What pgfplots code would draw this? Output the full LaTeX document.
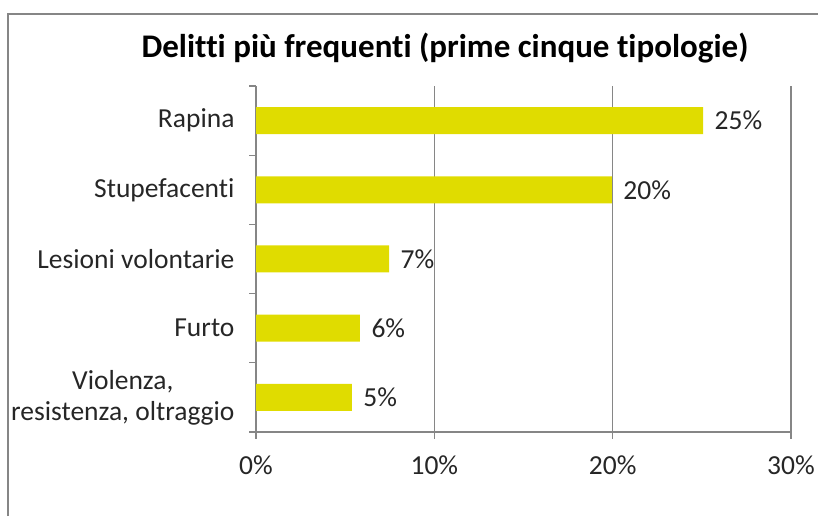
\documentclass[border=0pt]{standalone}
\usepackage{pgfplots}
\pgfplotsset{compat=1.18}
\usepackage{fontspec}
\setmainfont{Carlito}[Ligatures=NoCommon]
\definecolor{barcol}{RGB}{224,220,0}
\definecolor{axcol}{RGB}{134,134,134}
\begin{document}
\begin{tikzpicture}[x=1pt,y=1pt]
  \path[use as bounding box] (0,0) rectangle (818,516);
  \draw[axcol, line width=2pt] (8,0) -- (8,502) -- (818,502);
  \node[font=\fontsize{33}{37}\selectfont\bfseries] at (445,468) {Delitti più frequenti (prime cinque tipologie)};
  \begin{axis}[
      at={(256pt,84pt)}, anchor=south west,
      scale only axis, width=535pt, height=346pt,
      xbar, bar width=27pt,
      xmin=0, xmax=30, ymin=-0.5, ymax=4.5,
      enlargelimits=false,
      axis lines*=left,
      axis line style={axcol, line width=1.3pt, -},
      xmajorgrids, grid style={axcol, line width=1.3pt},
      tick align=outside,
      major tick length=7pt,
      tick style={axcol, line width=1.3pt},
      xtick={0,10,20,30},
      xticklabels={0\%,10\%,20\%,30\%},
      ytick={-0.5,0.5,...,4.5},
      yticklabels={},
      extra y ticks={0,1,2,3,4},
      extra y tick labels={{Violenza,\\resistenza, oltraggio},Furto,Lesioni volontarie,Stupefacenti,Rapina},
      extra y tick style={major tick length=0pt, grid=none},
      ticklabel style={font=\fontsize{27.5}{31}\selectfont, text=black!85},
      yticklabel style={align=center, xshift=-18pt},
      xticklabel style={yshift=-13pt},
      nodes near coords,
      point meta=explicit symbolic,
      nodes near coords style={font=\fontsize{27.5}{31}\selectfont, text=black!85, anchor=west, xshift=8pt},
    ]
    \addplot[fill=barcol, draw=none] coordinates {
      (25.07,4) [25\%]
      (19.96,3) [20\%]
      (7.46,2) [7\%]
      (5.83,1) [6\%]
      (5.38,0) [5\%]
    };
  \end{axis}
\end{tikzpicture}
\end{document}
